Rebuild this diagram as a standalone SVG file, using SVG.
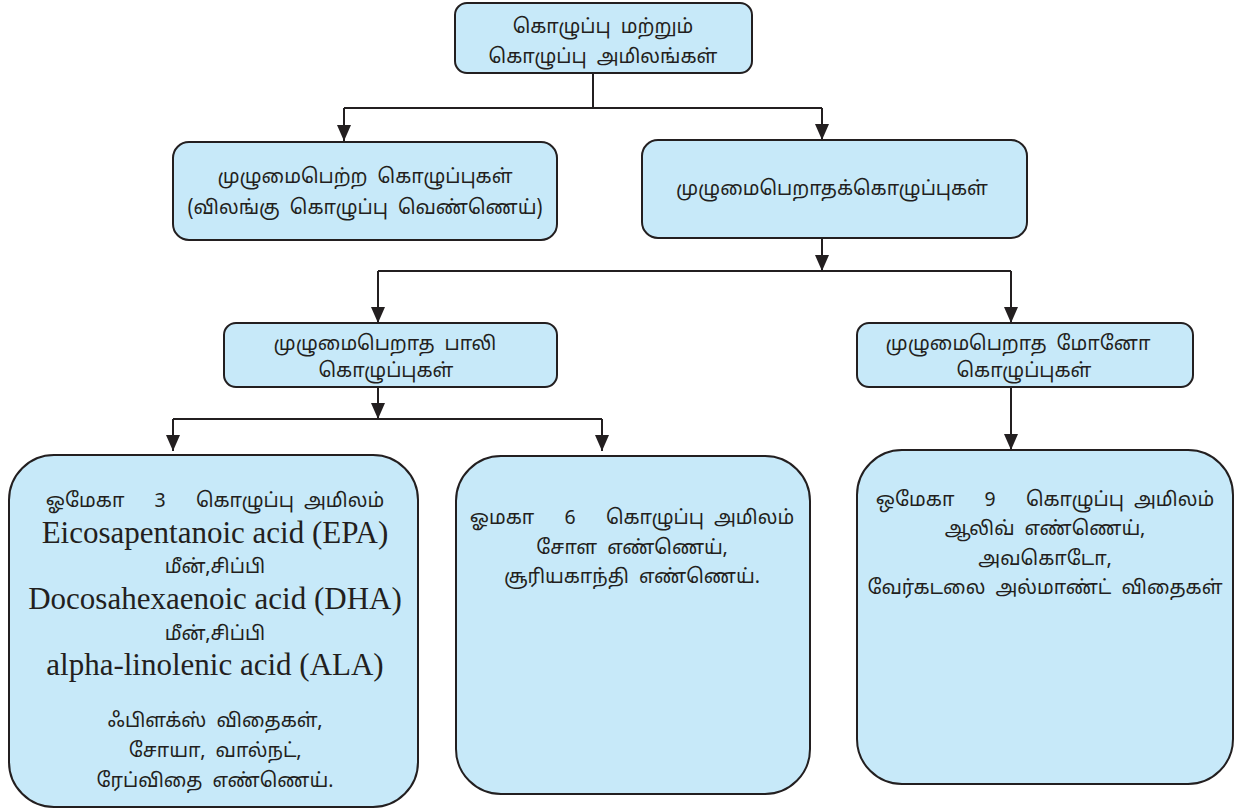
<svg xmlns="http://www.w3.org/2000/svg" width="1234" height="810" viewBox="0 0 1234 810">
<style>
.box{fill:#c7e9f9;stroke:#231f20;stroke-width:2}
.ta{font-family:"Noto Sans Tamil","Lohit Tamil","Noto Sans","Noto Serif Tamil",sans-serif;font-size:19.5px;word-spacing:5px;fill:#231f20;text-anchor:middle}
.en{font-family:"Liberation Serif","Times New Roman",serif;font-size:31px;fill:#231f20;text-anchor:middle}
.ln{fill:none;stroke:#231f20;stroke-width:2}
</style>
<defs>
<marker id="ah" viewBox="0 0 16 14" refX="16" refY="7" markerWidth="16" markerHeight="14" markerUnits="userSpaceOnUse" orient="auto">
<path d="M0,0 L16,7 L0,14 z" fill="#231f20"/>
</marker>
</defs>
<g id="connectors">
<path class="ln" d="M593,73 V108"/>
<path class="ln" d="M344,108 H822"/>
<path class="ln" d="M344,108 V141" marker-end="url(#ah)"/>
<path class="ln" d="M822,108 V140" marker-end="url(#ah)"/>
<path class="ln" d="M822,238 V271" marker-end="url(#ah)"/>
<path class="ln" d="M378,271 H1011"/>
<path class="ln" d="M378,271 V323" marker-end="url(#ah)"/>
<path class="ln" d="M1011,271 V323" marker-end="url(#ah)"/>
<path class="ln" d="M378,387 V419" marker-end="url(#ah)"/>
<path class="ln" d="M173,419 H602"/>
<path class="ln" d="M173,419 V451" marker-end="url(#ah)"/>
<path class="ln" d="M602,419 V451" marker-end="url(#ah)"/>
<path class="ln" d="M1011,387 V450" marker-end="url(#ah)"/>
</g>
<g id="root">
<rect class="box" x="455" y="3" width="297" height="70" rx="12"/>
<text class="ta" x="603" y="33">கொழுப்பு மற்றும்</text>
<text class="ta" x="603" y="63">கொழுப்பு அமிலங்கள்</text>
</g>
<g id="saturated">
<rect class="box" x="173" y="142" width="384" height="98" rx="16"/>
<text class="ta" x="365" y="183">முழுமைபெற்ற கொழுப்புகள்</text>
<text class="ta" x="365" y="214">(விலங்கு கொழுப்பு வெண்ணெய்)</text>
</g>
<g id="unsaturated">
<rect class="box" x="642" y="140" width="385" height="98" rx="16"/>
<text class="ta" x="832" y="195">முழுமைபெறாதக்கொழுப்புகள்</text>
</g>
<g id="poly">
<rect class="box" x="224" y="323" width="333" height="64" rx="12"/>
<text class="ta" x="385" y="350">முழுமைபெறாத பாலி</text>
<text class="ta" x="386" y="377">கொழுப்புகள்</text>
</g>
<g id="mono">
<rect class="box" x="857" y="323" width="336" height="64" rx="12"/>
<text class="ta" x="1018" y="350">முழுமைபெறாத மோனோ</text>
<text class="ta" x="1024" y="377">கொழுப்புகள்</text>
</g>
<g id="omega3">
<rect class="box" x="9" y="455" width="409" height="352" rx="45"/>
<text class="ta" x="215" y="507" xml:space="preserve">ஓமேகா   3   கொழுப்பு அமிலம்</text>
<text class="en" x="215" y="543">Eicosapentanoic acid (EPA)</text>
<text class="ta" x="215" y="573">மீன்,சிப்பி</text>
<text class="en" x="215" y="609">Docosahexaenoic acid (DHA)</text>
<text class="ta" x="215" y="640">மீன்,சிப்பி</text>
<text class="en" x="215" y="675">alpha-linolenic acid (ALA)</text>
<text class="ta" x="215" y="727">ஃபிளக்ஸ் விதைகள்,</text>
<text class="ta" x="215" y="757">சோயா, வால்நட்,</text>
<text class="ta" x="215" y="787">ரேப்விதை எண்ணெய்.</text>
</g>
<g id="omega6">
<rect class="box" x="456" y="456" width="354" height="338" rx="45"/>
<text class="ta" x="632" y="524" xml:space="preserve">ஓமகா   6   கொழுப்பு அமிலம்</text>
<text class="ta" x="632" y="554">சோள எண்ணெய்,</text>
<text class="ta" x="632" y="583">சூரியகாந்தி எண்ணெய்.</text>
</g>
<g id="omega9">
<rect class="box" x="857" y="450" width="376" height="334" rx="45"/>
<text class="ta" x="1045" y="506" xml:space="preserve">ஒமேகா   9   கொழுப்பு அமிலம்</text>
<text class="ta" x="1045" y="535">ஆலிவ் எண்ணெய்,</text>
<text class="ta" x="1045" y="565">அவகொடோ,</text>
<text class="ta" x="1045" y="594">வேர்கடலை அல்மாண்ட் விதைகள்</text>
</g>
</svg>
